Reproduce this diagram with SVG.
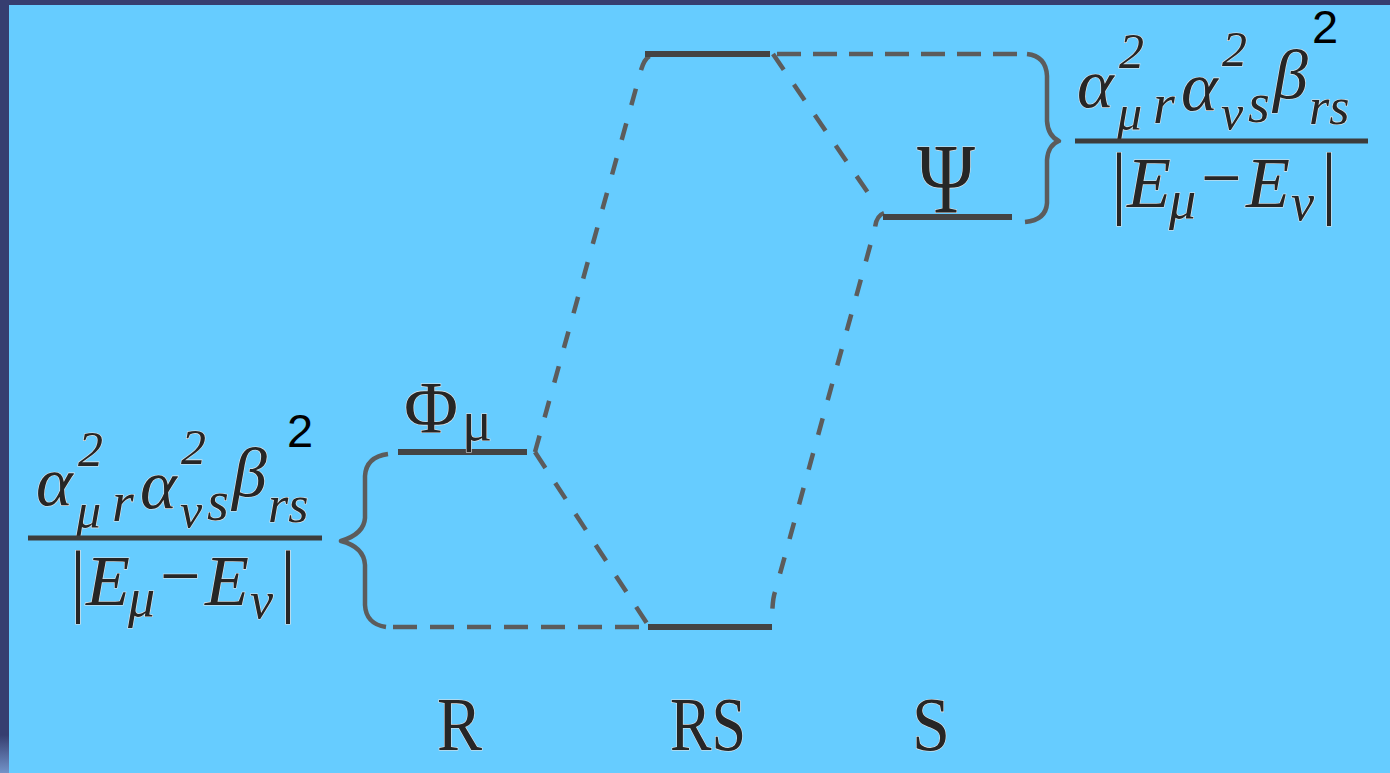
<svg xmlns="http://www.w3.org/2000/svg" width="1390" height="773" viewBox="0 0 1390 773">
<style>
.bg{fill:#66CCFF}
.frame{fill:#363E70}
.lvl{stroke:#444;stroke-width:6;fill:none}
.bar{stroke:#3c3c3c;stroke-width:5;fill:none}
.con{stroke:#5c5c5c;stroke-width:4.5;fill:none;stroke-linejoin:round}
.dotted{stroke-dasharray:17 19}
.dashA{stroke-dasharray:19 18}
.dashB{stroke-dasharray:24 13}
.dashC{stroke-dasharray:24 12}
.m{font-family:"Liberation Serif","DejaVu Serif",serif;font-style:italic;fill:#262626;stroke:#e4e4e4;stroke-width:1.2;paint-order:stroke}
.up{font-style:normal}
.lab{font-family:"Liberation Serif","DejaVu Serif",serif;fill:#262626;stroke:#e4e4e4;stroke-width:1.2;paint-order:stroke}
.two{font-family:"Liberation Sans",Arial,sans-serif;font-size:47px;fill:#000}
</style>
<defs>
<linearGradient id="cornerGrad" x1="0" y1="0" x2="0" y2="1">
<stop offset="0" stop-color="#363E70"/>
<stop offset="1" stop-color="#7393c8"/>
</linearGradient>
</defs>

<rect class="bg" x="0" y="0" width="1390" height="773"/>
<rect class="frame" x="0" y="0" width="1390" height="5"/>
<rect class="frame" x="0" y="0" width="9" height="773"/>
<rect x="0" y="735" width="9" height="38" fill="url(#cornerGrad)"/>

<g id="connectors">
<path class="con dotted" d="M535,452 L640,74 Q644,57 652,55"/>
<path class="con dashA" d="M535,452 L648,625"/>
<path class="con dashA" d="M773,54 L875,203"/>
<path class="con dotted" d="M884,213 Q876,216 875,228 L775,592 Q772,600 772,625"/>
<path class="con" d="M388,454 Q366,457 365,476 L365,518 Q364,534 341,541 Q364,547 365,565 L365,605 Q366,624 386,627"/>
<path class="con dashB" d="M393,627 L640,627"/>
<path class="con dashC" d="M777,54 L1018,54"/>
<path class="con" d="M1027,54 Q1046,56 1047,76 L1047,121 Q1048,136 1059,141 Q1048,145 1047,160 L1047,203 Q1046,220 1025,222"/>
</g>

<g id="level-phi">
<line class="lvl" x1="398" y1="452" x2="527" y2="452"/>
<text class="m up"><tspan x="404" y="433" font-size="74">Φ</tspan><tspan x="462" y="440" font-size="56">μ</tspan></text>
</g>

<g id="level-rs-top">
<line class="lvl" x1="645" y1="54" x2="770" y2="54"/>
</g>

<g id="level-psi">
<line class="lvl" x1="883" y1="217" x2="1012" y2="217"/>
<text class="m up" x="917" y="212" font-size="100" textLength="58" lengthAdjust="spacingAndGlyphs">Ψ</text>
</g>

<g id="level-rs-bottom">
<line class="lvl" x1="648" y1="627" x2="772" y2="627"/>
</g>

<g id="formula-left">
<text class="m"><tspan x="36" y="505" font-size="70">α</tspan><tspan x="78" y="466" font-size="50">2</tspan><tspan x="76" y="528" font-size="50">μ</tspan><tspan x="112" y="521" font-size="56">r</tspan><tspan x="140" y="508" font-size="70">α</tspan><tspan x="181" y="464" font-size="50">2</tspan><tspan x="180" y="528" font-size="50">ν</tspan><tspan x="207" y="520" font-size="56">s</tspan><tspan x="232" y="496" font-size="70">β</tspan><tspan x="268" y="522" font-size="52">rs</tspan></text>
<line class="bar" x1="28" y1="538" x2="322" y2="538"/>
<text class="m"><tspan x="70" y="607" font-size="80" font-style="normal">|</tspan><tspan x="86" y="605" font-size="72">E</tspan><tspan x="128" y="616" font-size="54">μ</tspan><tspan x="160" y="600" font-size="72" font-style="normal">−</tspan><tspan x="205" y="605" font-size="72">E</tspan><tspan x="250" y="618" font-size="52">ν</tspan><tspan x="280" y="607" font-size="80" font-style="normal">|</tspan></text>
<text class="two" x="287" y="447">2</text>
</g>

<g id="formula-right" transform="translate(1041,-398)">
<text class="m"><tspan x="36" y="505" font-size="70">α</tspan><tspan x="78" y="466" font-size="50">2</tspan><tspan x="76" y="528" font-size="50">μ</tspan><tspan x="112" y="521" font-size="56">r</tspan><tspan x="140" y="508" font-size="70">α</tspan><tspan x="181" y="464" font-size="50">2</tspan><tspan x="180" y="528" font-size="50">ν</tspan><tspan x="207" y="520" font-size="56">s</tspan><tspan x="232" y="496" font-size="70">β</tspan><tspan x="268" y="522" font-size="52">rs</tspan></text>
<line class="bar" x1="34" y1="539" x2="327" y2="539"/>
<text class="m"><tspan x="70" y="607" font-size="80" font-style="normal">|</tspan><tspan x="86" y="605" font-size="72">E</tspan><tspan x="128" y="616" font-size="54">μ</tspan><tspan x="160" y="600" font-size="72" font-style="normal">−</tspan><tspan x="205" y="605" font-size="72">E</tspan><tspan x="250" y="618" font-size="52">ν</tspan><tspan x="280" y="607" font-size="80" font-style="normal">|</tspan></text>
<text class="two" x="271" y="441">2</text>
</g>

<g id="label-r"><text class="lab" x="437" y="750" font-size="76" textLength="45" lengthAdjust="spacingAndGlyphs">R</text></g>
<g id="label-rs"><text class="lab" x="670" y="750" font-size="76" textLength="76" lengthAdjust="spacingAndGlyphs">RS</text></g>
<g id="label-s"><text class="lab" x="912" y="750" font-size="76" textLength="38" lengthAdjust="spacingAndGlyphs">S</text></g>
</svg>
